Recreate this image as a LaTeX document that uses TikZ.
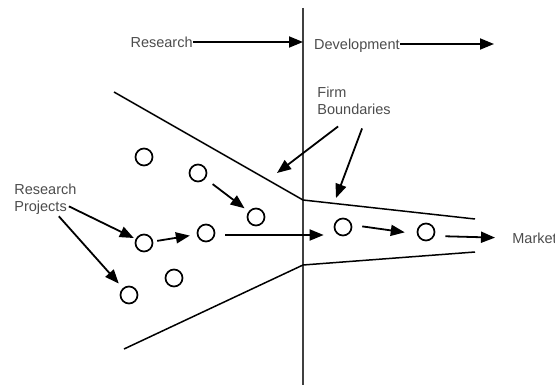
\documentclass[tikz,border=0pt]{standalone}
\usepackage{fontspec}
\setmainfont{Liberation Sans}
\usetikzlibrary{arrows.meta}
\begin{document}
\begin{tikzpicture}[x=0.5pt, y=-0.5pt,
  every node/.style = {font=\fontsize{7.25}{8.5}\selectfont, text=black!70},
  project/.style = {shape=circle, draw, line width=0.85pt, minimum size=8.5pt, inner sep=0pt},
  label/.style = {inner sep=1.5pt, align=left},
  flow/.style = {-{Triangle[length=7pt, width=5.5pt]}, line width=0.9pt},
  boundary/.style = {line width=0.75pt}]
  \useasboundingbox (0,0) rectangle (555,385);
  % phase divider
  \coordinate (top) at (303,8);
  \coordinate (bot) at (303,385);
  \draw[line width=0.85pt, black!75] (top) -- (bot);
  % phase labels
  \node[label, inner sep=0pt, anchor=east] (res) at (193,42) {Research};
  \coordinate (resEnd) at (303,42);
  \node[label, inner sep=0pt, anchor=east] (dev) at (400,46) {Development};
  \coordinate (devEnd) at (494,44);
  \draw[flow] (res.east) -- (resEnd);
  \draw[flow] ([yshift=1pt]dev.east) -- (devEnd);
  % firm boundaries
  \coordinate (u1) at (114,92);
  \coordinate (u2) at (303,200);
  \coordinate (u3) at (475,219);
  \coordinate (l1) at (124,349);
  \coordinate (l2) at (303,265);
  \coordinate (l3) at (475,252);
  \draw[boundary] (u1) -- (u2) -- (u3);
  \draw[boundary] (l1) -- (l2) -- (l3);
  % projects
  \node[project] (p1) at (144,157) {};
  \node[project] (p2) at (198,173) {};
  \node[project] (p3) at (256,217) {};
  \node[project] (p4) at (144,243) {};
  \node[project] (p5) at (206,233) {};
  \node[project] (p6) at (174,278) {};
  \node[project] (p7) at (129,295) {};
  \node[project] (d1) at (343,227) {};
  \node[project] (d2) at (426,232) {};
  \node[label, anchor=west] (mkt) at (509,238) {Market};
  \draw[flow, shorten >=2.5pt, shorten <=4.5pt] (p2) -- (p3);
  \draw[flow, shorten >=3.5pt, shorten <=2pt] (p4) -- (p5);
  \draw[flow, shorten >=5pt, shorten <=5pt] ([yshift=-1pt]p5.east) -- ([yshift=-4pt]d1.west);
  \draw[flow, shorten >=6pt, shorten <=5pt] ([yshift=1pt]d1.east) -- ([yshift=-1pt]d2.west);
  \draw[flow, shorten <=5pt, shorten >=7pt] ([yshift=-2pt]d2.east) -- (mkt.west);
  % annotations
  \node[label, anchor=north west] (fb) at (314,84) {Firm\\Boundaries};
  \coordinate (fbA) at (277,173);
  \coordinate (fbB) at (336,198);
  \draw[flow] ([shift={(-16,8)}]fb.south) -- (fbA);
  \draw[flow] ([shift={(8,10)}]fb.south) -- (fbB);
  \node[label, anchor=north west] (rp) at (11,181) {Research\\Projects};
  \draw[flow, shorten >=1pt] ([shift={(-11,-12)}]rp.south east) -- (p4);
  \draw[flow, shorten >=3pt] ([shift={(-21,-2)}]rp.south east) -- (p7);
\end{tikzpicture}
\end{document}
